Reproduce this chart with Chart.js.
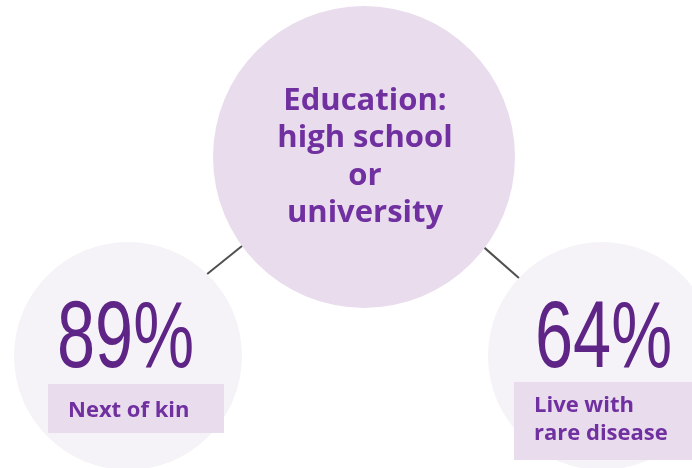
<!DOCTYPE html>
<html>
<head>
<meta charset="utf-8">
<script src="https://cdn.jsdelivr.net/npm/chart.js@4.4.1/dist/chart.umd.min.js"></script>
<style>
  html, body { margin: 0; padding: 0; background: #ffffff; }
  #wrap { width: 692px; height: 468px; }
</style>
</head>
<body>
<div id="wrap"><canvas id="c" width="692" height="468"></canvas></div>
<script>
// Centre topic and the two groups it links to
const topicLines = ['Education:', 'high school', 'or', 'university'];
const groupLabels = [['Next of kin'], ['Live with', 'rare disease']];
const shareValues = [89, 64];

// Node layout in canvas pixels (drawing only)
const layout = {
  topic: { x: 364, y: 157, r: 151, textDx: 1, baselines: [-47, -10, 28, 65] },
  groups: [
    { x: 128, y: 356, r: 114, box: [-80, 28, 176, 49], textDx: -60, baselines: [61], conn: [143.9, -46.0] },
    { x: 602, y: 356, r: 114, box: [-88, 26, 200, 78], textDx: -68, baselines: [56, 84], conn: [37.0, -136.8] }
  ]
};

const PURPLE = '#7030a0';
const DEEP = '#5e2486';
const TOPIC_FILL = 'rgb(233,220,237)';
const GROUP_FILL = 'rgb(246,243,248)';
const BOX_FILL = 'rgb(233,220,237)';
const BOLD_FACE = '"Open Sans", "Noto Sans", sans-serif';

const nodes = [
  { x: layout.groups[0].x, y: layout.groups[0].y, r: layout.groups[0].r },
  { x: layout.groups[1].x, y: layout.groups[1].y, r: layout.groups[1].r },
  { x: layout.topic.x, y: layout.topic.y, r: layout.topic.r }
];

const infoPlugin = {
  id: 'infoText',
  afterDatasetsDraw(chart) {
    const { ctx, scales } = chart;
    const px = v => scales.x.getPixelForValue(v);
    const py = v => scales.y.getPixelForValue(v);
    const T = layout.topic;
    const tx = px(T.x), ty = py(T.y), tr = T.r;
    ctx.save();

    // connectors between the topic circle and each group circle
    ctx.strokeStyle = '#505050';
    ctx.lineWidth = 2;
    ctx.lineCap = 'butt';
    layout.groups.forEach(g => {
      const gx = px(g.x), gy = py(g.y);
      const a1 = g.conn[0] * Math.PI / 180, a2 = g.conn[1] * Math.PI / 180;
      ctx.beginPath();
      ctx.moveTo(tx + tr * Math.cos(a1), ty + tr * Math.sin(a1));
      ctx.lineTo(gx + g.r * Math.cos(a2), gy + g.r * Math.sin(a2));
      ctx.stroke();
    });

    // topic text
    ctx.fillStyle = PURPLE;
    ctx.textAlign = 'center';
    ctx.textBaseline = 'alphabetic';
    ctx.font = 'bold 31px ' + BOLD_FACE;
    topicLines.forEach((line, i) => {
      ctx.fillText(line, tx + T.textDx, ty + T.baselines[i]);
    });

    // group percentages and labels
    layout.groups.forEach((g, i) => {
      const gx = px(g.x), gy = py(g.y);
      // label box
      ctx.fillStyle = BOX_FILL;
      ctx.fillRect(gx + g.box[0], gy + g.box[1], g.box[2], g.box[3]);

      // big percentage, condensed face
      ctx.save();
      ctx.fillStyle = DEEP;
      ctx.textAlign = 'left';
      ctx.textBaseline = 'alphabetic';
      ctx.font = '94px "Liberation Sans Narrow", "Liberation Sans", Arial, sans-serif';
      const txt = shareValues[i] + '%';
      const w = ctx.measureText(txt).width;
      const sx = 137 / w;
      const left = i === 0 ? gx - 71 : gx - 67;
      ctx.translate(left, gy + 11);
      ctx.scale(sx, 1);
      ctx.fillText(txt, 0, 0);
      ctx.restore();

      // label text
      ctx.fillStyle = PURPLE;
      ctx.textAlign = 'left';
      ctx.textBaseline = 'alphabetic';
      ctx.font = 'bold 22px ' + BOLD_FACE;
      groupLabels[i].forEach((line, k) => {
        ctx.fillText(line, gx + g.textDx, gy + g.baselines[k]);
      });
    });
    ctx.restore();
  }
};

new Chart(document.getElementById('c'), {
  type: 'bubble',
  data: {
    datasets: [{
      data: nodes,
      backgroundColor: [GROUP_FILL, GROUP_FILL, TOPIC_FILL],
      borderWidth: 0,
      hoverRadius: 0,
      clip: false
    }]
  },
  options: {
    responsive: false,
    animation: false,
    events: [],
    layout: { padding: 0, autoPadding: false },
    scales: {
      x: { type: 'linear', min: 0, max: 692, display: false },
      y: { type: 'linear', min: 0, max: 468, reverse: true, display: false }
    },
    plugins: { legend: { display: false }, tooltip: { enabled: false } }
  },
  plugins: [infoPlugin]
});
</script>
</body>
</html>
